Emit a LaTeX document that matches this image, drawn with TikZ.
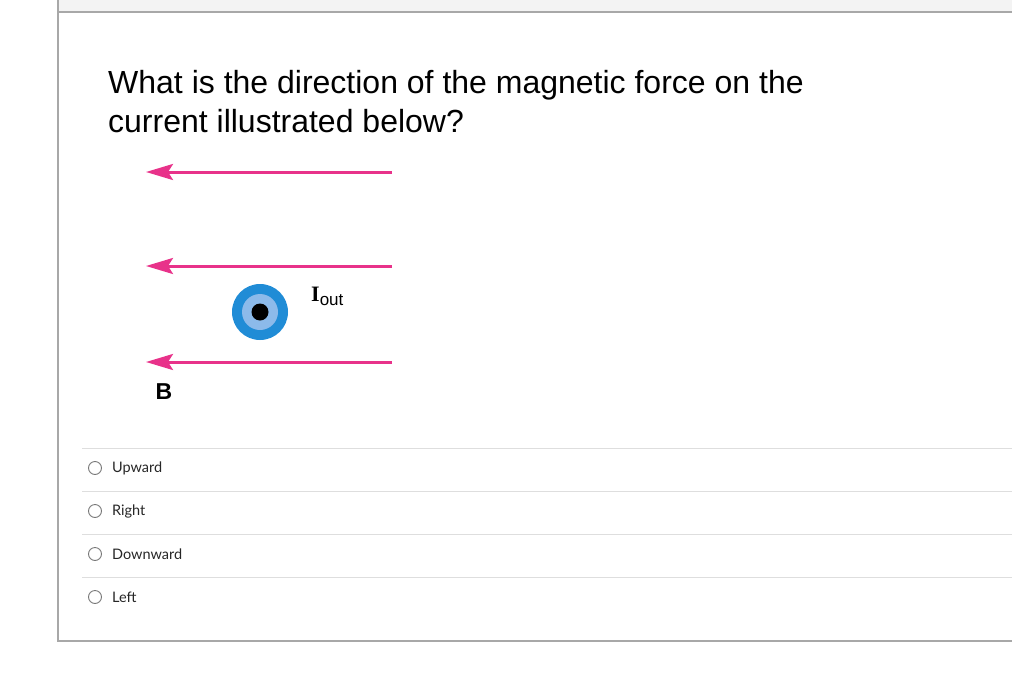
\documentclass[tikz,border=0pt]{standalone}
\usepackage{fontspec}
\setmainfont{Liberation Sans}
\newfontfamily\latofont{Lato}
\newfontfamily\serifbold{Liberation Serif}
\usetikzlibrary{arrows.meta}
\usetikzlibrary{positioning}
\definecolor{fieldpink}{RGB}{232,50,138}
\definecolor{wireblue}{RGB}{32,140,214}
\definecolor{ringblue}{RGB}{140,186,234}
\definecolor{frameg}{RGB}{168,168,168}
\definecolor{sepg}{RGB}{222,222,222}
\definecolor{bandg}{RGB}{243,243,243}
\definecolor{radiog}{RGB}{120,120,120}
\tikzstyle{fieldline} = [line width=3pt, draw=fieldpink, -{Stealth[length=27pt, width=16pt, inset=5pt]}]
\tikzstyle{qtext} = [inner sep=0pt, anchor=base west, font=\fontsize{32}{39}\selectfont]

\begin{document}
\begin{tikzpicture}[x=1pt, y=-1pt,
radio/.style={circle, draw=radiog, line width=0.9pt, minimum size=13pt, inner sep=0pt},
answer/.style={inner sep=0pt, anchor=west, font=\latofont\fontsize{14.5}{17}\selectfont, text=black!85},
]
\useasboundingbox (0,0) rectangle (1012,672);
%Frame
\fill[bandg] (58,0) rectangle (1012,12);
\draw[frameg, line width=1.5pt] (58,12) -- (1012,12);
\draw[frameg, line width=1.5pt] (58,0) -- (58,641) -- (1012,641);

%Question
\node[qtext] (q1) at (108,93) {What is the direction of the magnetic force on the};
\node[qtext] (q2) at ([yshift=-39pt]q1.base west) {current illustrated below?};

%Field lines
\coordinate (b1r) at (392,172);
\coordinate (b1l) at (146,172);
\coordinate (b2r) at (392,266);
\coordinate (b2l) at (146,266);
\coordinate (b3r) at (392,362);
\coordinate (b3l) at (146,362);
\draw[fieldline] (b1r) -- (b1l);
\draw[fieldline] (b2r) -- (b2l);
\draw[fieldline] (b3r) -- (b3l);
\node[font=\bfseries\fontsize{23}{23}\selectfont, inner sep=0pt] (blabel) at (164,392) {B};

%Wire
\node[circle, fill=wireblue, minimum size=56pt, inner sep=0pt] (wire) at (260,312) {};
\node[circle, fill=ringblue, minimum size=36pt, inner sep=0pt] (ring) at (wire) {};
\node[circle, fill=black, minimum size=17pt, inner sep=0pt] (dot) at (wire) {};
\node[inner sep=0pt, anchor=base west] (iout) at (311,301) {\serifbold\bfseries\fontsize{22}{22}\selectfont I\raisebox{-4pt}{\rmfamily\mdseries\fontsize{17}{17}\selectfont out}};

%Answers
\foreach \yy in {448,491,534,577}
  \draw[sepg, line width=1pt] (82,\yy) -- (1012,\yy);
\node[radio] (r1) at (95,468) {};
\node[radio] (r2) [below=29.1pt of r1] {};
\node[radio] (r3) [below=29.1pt of r2] {};
\node[radio] (r4) [below=29.1pt of r3] {};
\node[answer] (a1) [right=10pt of r1] {Upward};
\node[answer] (a2) [right=10pt of r2] {Right};
\node[answer] (a3) [right=10pt of r3] {Downward};
\node[answer] (a4) [right=10pt of r4] {Left};

\end{tikzpicture}
\end{document}
